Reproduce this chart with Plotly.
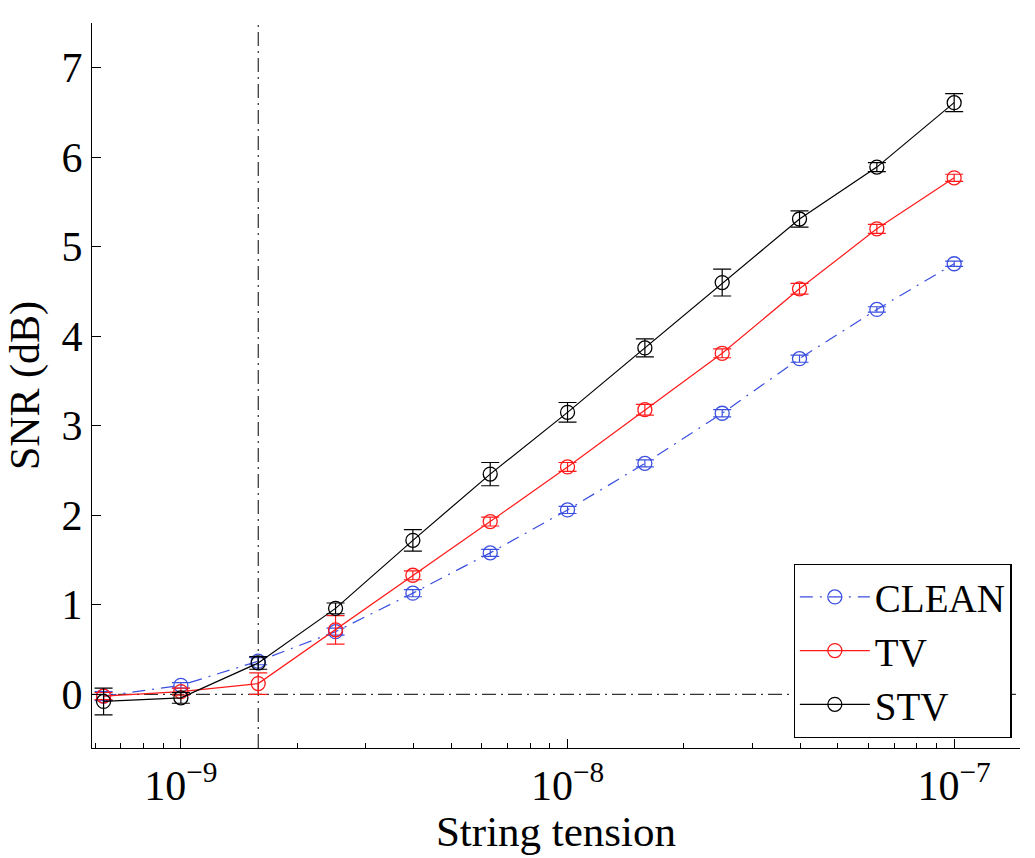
import numpy as np
import plotly.graph_objects as go

# ---- data ----
tension = [6.31e-10, 1.0e-9, 1.585e-9, 2.512e-9, 3.981e-9, 6.31e-9,
           1.0e-8, 1.585e-8, 2.512e-8, 3.981e-8, 6.31e-8, 1.0e-7]

clean = [-0.02, 0.10, 0.37, 0.70, 1.13, 1.58, 2.06, 2.58, 3.14, 3.75, 4.30, 4.81]
clean_err = [0.05, 0.03, 0.04, 0.04, 0.04, 0.04, 0.04, 0.04, 0.04, 0.04, 0.03, 0.03]

tv = [-0.02, 0.03, 0.12, 0.72, 1.33, 1.93, 2.54, 3.18, 3.81, 4.53, 5.20, 5.77]
tv_err = [0.04, 0.04, 0.12, 0.16, 0.05, 0.05, 0.05, 0.06, 0.05, 0.06, 0.05, 0.04]

stv = [-0.08, -0.04, 0.35, 0.96, 1.72, 2.46, 3.15, 3.87, 4.60, 5.31, 5.89, 6.61]
stv_err = [0.15, 0.06, 0.07, 0.06, 0.12, 0.13, 0.11, 0.10, 0.15, 0.09, 0.05, 0.10]

threshold_x = 1.585e-9
x_tickvals = [1e-9, 1e-8, 1e-7]
x_ticktext = ["10<sup>\u22129</sup>", "10<sup>\u22128</sup>", "10<sup>\u22127</sup>"]
x_minor = [m * 10.0 ** e for e in (-10, -9, -8) for m in range(2, 10)]
x_minor = [v for v in x_minor if 5.9e-10 < v < 1.5e-7 and v not in x_tickvals]
y_tickvals = [0, 1, 2, 3, 4, 5, 6, 7]

FONT = "Liberation Serif"
BLUE = "#3b4fe0"
RED = "#ff1a1a"
BLACK = "#000000"

fig = go.Figure()

def add_series(y, err, name, color, dash):
    fig.add_trace(go.Scatter(
        x=tension, y=y, name=name, mode="lines+markers",
        line=dict(color=color, width=1.2, dash=dash),
        marker=dict(symbol="circle-open", size=14, color=color, line=dict(width=1.3, color=color)),
        error_y=dict(type="data", array=err, visible=True, color=color, thickness=1.2, width=9),
    ))

add_series(clean, clean_err, "CLEAN", BLUE, "13px,7px,2px,7px")
add_series(tv, tv_err, "TV", RED, "solid")
add_series(stv, stv_err, "STV", BLACK, "solid")

fig.add_shape(type="line", xref="x", yref="paper", x0=threshold_x, x1=threshold_x, y0=0, y1=1,
              line=dict(color="black", width=1, dash="14px,5px,2px,5px"), layer="below")
fig.add_shape(type="line", xref="paper", yref="y", x0=0, x1=1, y0=0, y1=0,
              line=dict(color="black", width=1, dash="14px,5px,2px,5px"), layer="below")

fig.update_layout(
    width=1035, height=858,
    margin=dict(l=92, r=15, t=23, b=110),
    plot_bgcolor="white", paper_bgcolor="white",
    font=dict(family=FONT, size=40, color="black"),
    showlegend=True,
    legend=dict(
        x=0.991, y=0.014, xanchor="right", yanchor="bottom",
        bgcolor="white", bordercolor="black", borderwidth=1.2,
        font=dict(family=FONT, size=39), itemwidth=70,
        tracegroupgap=0,
    ),
    xaxis=dict(
        type="log", range=[np.log10(5.89e-10), np.log10(1.48e-7)],
        tickmode="array", tickvals=x_tickvals, ticktext=x_ticktext,
        ticks="inside", ticklen=9, tickwidth=1, tickcolor="black",
        showline=True, linecolor="black", linewidth=1.2,
        showgrid=False, zeroline=False, mirror=False,
        tickfont=dict(family=FONT, size=42),
        minor=dict(tickmode="array", tickvals=x_minor, ticks="inside", ticklen=5,
                   tickwidth=1, tickcolor="black", showgrid=False),
        title=dict(text="String tension", font=dict(family=FONT, size=43), standoff=5),
    ),
    yaxis=dict(
        range=[-0.6, 7.5],
        tickmode="array", tickvals=y_tickvals,
        ticks="inside", ticklen=9, tickwidth=1, tickcolor="black",
        showline=True, linecolor="black", linewidth=1.2,
        showgrid=False, zeroline=False, mirror=False,
        tickfont=dict(family=FONT, size=42),
        title=dict(text="SNR (dB)", font=dict(family=FONT, size=42), standoff=8),
    ),
)

fig.write_html("out.html")
